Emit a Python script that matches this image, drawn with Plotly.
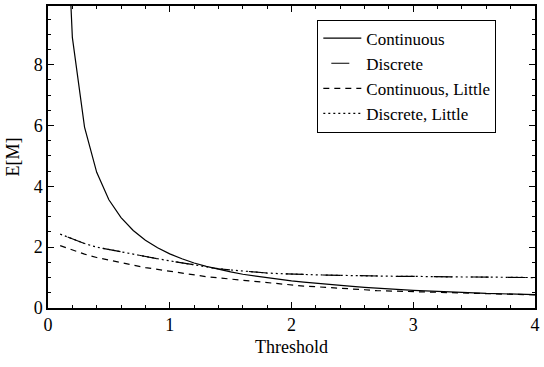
import plotly.graph_objects as go

threshold = [0.1, 0.2, 0.3, 0.4, 0.5, 0.6, 0.7, 0.8, 0.9, 1.0,
             1.1, 1.2, 1.3, 1.4, 1.5, 1.6, 1.7, 1.8, 1.9, 2.0,
             2.1, 2.2, 2.3, 2.4, 2.5, 2.6, 2.7, 2.8, 2.9, 3.0,
             3.1, 3.2, 3.3, 3.4, 3.5, 3.6, 3.7, 3.8, 3.9, 4.0]

continuous = [17.8, 8.9, 5.95, 4.46, 3.56, 2.97, 2.55, 2.23, 1.98, 1.78,
              1.62, 1.48, 1.37, 1.27, 1.19, 1.11, 1.05, 0.99, 0.94, 0.89,
              0.85, 0.81, 0.77, 0.74, 0.71, 0.68, 0.65, 0.63, 0.60, 0.58,
              0.56, 0.55, 0.53, 0.51, 0.50, 0.48, 0.47, 0.46, 0.45, 0.44]

discrete = [2.43, 2.27, 2.12, 2.00, 1.92, 1.85, 1.77, 1.70, 1.62, 1.55,
            1.48, 1.41, 1.35, 1.29, 1.25, 1.21, 1.18, 1.15, 1.13, 1.11,
            1.10, 1.09, 1.08, 1.07, 1.06, 1.06, 1.05, 1.05, 1.04, 1.04,
            1.03, 1.03, 1.03, 1.02, 1.02, 1.02, 1.01, 1.01, 1.01, 1.00]

continuous_little = [2.05, 1.90, 1.77, 1.66, 1.57, 1.49, 1.41, 1.33, 1.27, 1.20,
                     1.14, 1.08, 1.03, 0.99, 0.95, 0.91, 0.87, 0.83, 0.79, 0.75,
                     0.72, 0.70, 0.68, 0.66, 0.63, 0.60, 0.57, 0.56, 0.55, 0.54,
                     0.53, 0.51, 0.50, 0.49, 0.48, 0.47, 0.46, 0.45, 0.44, 0.43]

discrete_little = [2.43, 2.27, 2.12, 2.00, 1.92, 1.85, 1.77, 1.70, 1.62, 1.55,
                   1.48, 1.41, 1.35, 1.29, 1.25, 1.21, 1.18, 1.15, 1.13, 1.11,
                   1.10, 1.09, 1.08, 1.07, 1.06, 1.06, 1.05, 1.05, 1.04, 1.04,
                   1.03, 1.03, 1.03, 1.02, 1.02, 1.02, 1.01, 1.01, 1.01, 1.00]

FONT = "Liberation Serif, Times New Roman, serif"

fig = go.Figure()
fig.add_trace(go.Scatter(x=threshold, y=continuous, mode="lines", name="Continuous",
                         line=dict(color="black", width=1.2, dash="solid")))
fig.add_trace(go.Scatter(x=threshold, y=discrete, mode="lines", name="Discrete",
                         line=dict(color="black", width=1.2, dash="0px,8px,18px,11px")))
fig.add_trace(go.Scatter(x=threshold, y=continuous_little, mode="lines", name="Continuous, Little",
                         line=dict(color="black", width=1.2, dash="6px,5px")))
fig.add_trace(go.Scatter(x=threshold, y=discrete_little, mode="lines", name="Discrete, Little",
                         line=dict(color="black", width=1.2, dash="2px,3px")))

axis_common = dict(
    showline=True, linecolor="black", linewidth=1.5, mirror="ticks",
    ticks="inside", ticklen=6, tickwidth=1.2, tickcolor="black",
    showgrid=False, zeroline=False,
    tickfont=dict(family=FONT, size=18, color="black"),
)

fig.update_xaxes(range=[0, 4], dtick=1, tick0=0,
                 minor=dict(dtick=0.2, ticks="inside", ticklen=3.5, tickcolor="black", tickwidth=1),
                 title=dict(text="Threshold", font=dict(family=FONT, size=18, color="black"), standoff=6),
                 **axis_common)
fig.update_yaxes(range=[0, 9.93], dtick=2, tick0=0,
                 minor=dict(dtick=0.5, ticks="inside", ticklen=3.5, tickcolor="black", tickwidth=1),
                 title=dict(text="E[M]", font=dict(family=FONT, size=18, color="black"), standoff=9),
                 **axis_common)

fig.update_layout(
    width=544, height=367,
    margin=dict(l=48, r=4, t=5, b=59),
    paper_bgcolor="white", plot_bgcolor="white",
    font=dict(family=FONT, size=18, color="black"),
    showlegend=True,
    legend=dict(x=0.553, y=0.955, xanchor="left", yanchor="top",
                bordercolor="black", borderwidth=1, bgcolor="white",
                font=dict(family=FONT, size=17, color="black"),
                itemwidth=38, tracegroupgap=0),
)

fig.write_html("out.html")
